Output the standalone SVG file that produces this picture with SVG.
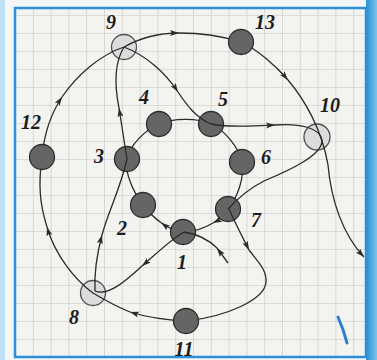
<svg xmlns="http://www.w3.org/2000/svg" xmlns:xlink="http://www.w3.org/1999/xlink" width="377" height="360" viewBox="0 0 377 360">
<style>
.ln{fill:none;stroke:#2a2a2a;stroke-width:1.3}
.dk{fill:#656565;stroke:#2e2e2e;stroke-width:1.3}
.op{fill:#dcdcdc;stroke:#505050;stroke-width:1.3}
.lb{font-family:"Liberation Serif","Times New Roman",serif;font-style:italic;font-weight:bold;font-size:20px;fill:#1c1c1c;text-anchor:middle}
</style>
<defs>
<pattern id="grid" patternUnits="userSpaceOnUse" x="15" y="15" width="17.8" height="18">
<path d="M0,0 H17.8 M0,0 V18" fill="none" stroke="#c6c6c6" stroke-width="1.2"/>
</pattern>
<marker id="ah" markerUnits="userSpaceOnUse" markerWidth="11" markerHeight="8" refX="9" refY="3" orient="auto">
<path d="M0,0 L9,3 L0,6 L2,3 z" fill="#2a2a2a"/>
</marker>
<linearGradient id="rb" x1="0" y1="0" x2="1" y2="0">
<stop offset="0" stop-color="#2b90d9"/>
<stop offset="1" stop-color="#7cc3ee"/>
</linearGradient>
<mask id="mRing" maskUnits="userSpaceOnUse" x="0" y="0" width="377" height="360">
<rect x="0" y="0" width="377" height="360" fill="#fff"/>
<g fill="#000">
<circle cx="183" cy="232" r="12"/><circle cx="143" cy="205" r="12"/><circle cx="127" cy="159" r="12"/>
<circle cx="159" cy="124" r="12"/><circle cx="211" cy="124" r="12"/><circle cx="242" cy="162" r="12"/>
<circle cx="228" cy="209" r="12"/>
</g>
</mask>
<mask id="mMain" maskUnits="userSpaceOnUse" x="0" y="0" width="377" height="360">
<rect x="0" y="0" width="377" height="360" fill="#fff"/>
<g fill="#000">
<circle cx="42" cy="157" r="12"/><circle cx="241" cy="42" r="12"/><circle cx="186" cy="321" r="12"/>
</g>
</mask>
</defs>

<rect x="0" y="0" width="377" height="360" fill="#f4f6f7"/>
<rect x="0" y="0" width="5" height="360" fill="#bfe0f4"/>
<rect x="366" y="0" width="11" height="360" fill="url(#rb)"/>
<rect x="15" y="8" width="351" height="349" fill="#f3f3f0"/>
<rect x="15" y="8" width="351" height="349" fill="url(#grid)"/>
<rect x="15" y="8" width="351" height="349" fill="none" stroke="#2b90d9" stroke-width="2.5"/>

<g id="nodes">
<g id="node-1"><circle class="dk" cx="183" cy="232" r="12.5"/><text class="lb" x="182" y="269">1</text></g>
<g id="node-2"><circle class="dk" cx="143" cy="205" r="12.5"/><text class="lb" x="122" y="235">2</text></g>
<g id="node-3"><circle class="dk" cx="127" cy="159" r="12.5"/><text class="lb" x="99" y="163">3</text></g>
<g id="node-4"><circle class="dk" cx="159" cy="124" r="12.5"/><text class="lb" x="144" y="104">4</text></g>
<g id="node-5"><circle class="dk" cx="211" cy="124" r="12.5"/><text class="lb" x="223" y="106">5</text></g>
<g id="node-6"><circle class="dk" cx="242" cy="162" r="12.5"/><text class="lb" x="266" y="164">6</text></g>
<g id="node-7"><circle class="dk" cx="228" cy="209" r="12.5"/><text class="lb" x="256" y="227">7</text></g>
<g id="node-8"><circle class="op" cx="93" cy="293" r="12.5"/><text class="lb" x="74" y="324">8</text></g>
<g id="node-9"><circle class="op" cx="124" cy="47" r="12.5"/><text class="lb" x="111" y="29">9</text></g>
<g id="node-10"><circle class="op" cx="317" cy="137" r="13"/><text class="lb" x="330" y="112">10</text></g>
<g id="node-11"><circle class="dk" cx="186" cy="321" r="12.5"/><text class="lb" x="184" y="356">11</text></g>
<g id="node-12"><circle class="dk" cx="42" cy="157" r="12.5"/><text class="lb" x="31" y="129">12</text></g>
<g id="node-13"><circle class="dk" cx="241" cy="42" r="12.5"/><text class="lb" x="265" y="29">13</text></g>
</g>

<g id="connectors">
<g mask="url(#mMain)">
<path class="ln" marker-end="url(#ah)" d="M229,209 C236,225 244,240 249,250"/>
<path class="ln" d="M249,250 C258,262 267,270 266,282 C265,300 225,317 186,321"/>
<path class="ln" marker-end="url(#ah)" d="M186,321 C165,320 146,317 130,312"/>
<path class="ln" d="M130,312 C115,306 103,299 93,293"/>
<path class="ln" marker-end="url(#ah)" d="M93,293 C75,280 55,255 47,227"/>
<path class="ln" d="M47,227 C40,205 38,185 42,157"/>
<path class="ln" marker-end="url(#ah)" d="M42,157 C44,135 50,115 62,97"/>
<path class="ln" marker-end="url(#ah)" d="M62,97 C77,75 100,55 124,47 C140,38 160,33 179,33"/>
<path class="ln" d="M179,33 C200,33 222,36 241,42"/>
<path class="ln" marker-end="url(#ah)" d="M241,42 C258,50 276,66 288,80"/>
<path class="ln" marker-end="url(#ah)" d="M288,80 C305,100 322,130 328,165 C331,200 343,235 364,257"/>
<path class="ln" marker-end="url(#ah)" d="M228,263 L217,248"/>
<path class="ln" d="M217,248 C208,239 196,234 184,232"/>
<path class="ln" marker-end="url(#ah)" d="M184,232 C170,240 155,255 142,266"/>
<path class="ln" d="M142,266 C128,279 108,297 95,291"/>
<path class="ln" marker-end="url(#ah)" d="M95,291 C94,270 98,250 102,235"/>
<path class="ln" d="M102,235 C108,212 120,190 127,159"/>
<path class="ln" marker-end="url(#ah)" d="M127,159 C124,140 121,120 119,108"/>
<path class="ln" d="M119,108 C115,88 113,65 124,47"/>
<path class="ln" marker-end="url(#ah)" d="M124,47 C145,55 165,72 178,92"/>
<path class="ln" marker-end="url(#ah)" d="M178,92 C186,104 196,118 211,124 C230,128 255,126 275,125"/>
<path class="ln" d="M275,125 C300,123 320,128 322,140 C323,155 290,170 264,181 C250,188 238,198 228,209"/>
</g>
<g mask="url(#mRing)">
<path class="ln" marker-end="url(#ah)" d="M228,209 C224,215 219,220 213,223"/>
<path class="ln" d="M213,223 C203,229 194,232 183,232"/>
<path class="ln" marker-end="url(#ah)" d="M183,232 C175.9,231.65 168.2,227.95 161.2,222.8"/>
<path class="ln" d="M161.2,222.8 C154.1,217.7 147.65,211.1 143,205 C133.7,192.8 124.3,172.5 127,159 C129.7,145.5 145,129.8 159,124 C173,118.2 197.2,117.7 211,124 C224.8,130.3 239.2,147.8 242,162 C244.8,176.2 237.8,197.3 228,209"/>
</g>
</g>

<path d="M338,317 C342,326 345,335 347,343" fill="none" stroke="#2a80d2" stroke-width="3" stroke-linecap="round"/>
</svg>
